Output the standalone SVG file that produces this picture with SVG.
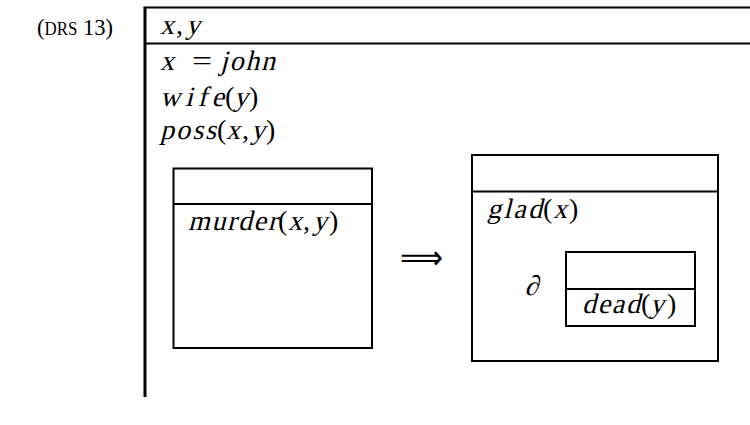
<svg xmlns="http://www.w3.org/2000/svg" width="750" height="425" viewBox="0 0 750 425">
<style>
.box{fill:none;stroke:#000;stroke-width:2}
text{font-family:"Liberation Serif","Times New Roman",serif;font-size:28px;fill:#000}
.lbl{font-size:24px}
</style>
<rect width="750" height="425" fill="#fff"/>
<g id="label"><text class="lbl" x="37" y="35" textLength="76" lengthAdjust="spacingAndGlyphs">(<tspan font-size="18">DRS</tspan> 13)</text></g>
<g id="outer">
<line x1="145" y1="7.5" x2="145" y2="397" stroke="#000" stroke-width="3"/>
<line x1="143.5" y1="7.5" x2="750" y2="7.5" stroke="#000" stroke-width="2"/>
<line x1="145" y1="43.5" x2="750" y2="43.5" stroke="#000" stroke-width="2"/>
<g transform="translate(160,34) skewX(-14)"><text>x</text></g>
<text x="176" y="34">,</text>
<g transform="translate(186,34) skewX(-14)"><text>y</text></g>

<g transform="translate(160,70) skewX(-14)"><text>x</text></g>
<text x="192" y="70" textLength="20" lengthAdjust="spacingAndGlyphs">=</text>
<g transform="translate(220,70) skewX(-14)"><text textLength="55" lengthAdjust="spacing">john</text></g>

<g transform="translate(160,106) skewX(-14)"><text textLength="64" lengthAdjust="spacing">wife</text></g>
<text x="225" y="106">(</text>
<g transform="translate(234,106) skewX(-14)"><text>y</text></g>
<text x="249" y="106">)</text>

<g transform="translate(160,139) skewX(-14)"><text textLength="56" lengthAdjust="spacing">poss</text></g>
<text x="217" y="139">(</text>
<g transform="translate(226,139) skewX(-14)"><text>x</text></g>
<text x="242" y="139">,</text>
<g transform="translate(251,139) skewX(-14)"><text>y</text></g>
<text x="266" y="139">)</text>
</g>
<g id="antecedent">
<rect class="box" x="173.5" y="168.5" width="198.5" height="179.5"/>
<line class="box" x1="173.5" y1="204" x2="372" y2="204"/>
<g transform="translate(188,230) skewX(-14)"><text textLength="89" lengthAdjust="spacing">murder</text></g>
<text x="278" y="230">(</text>
<g transform="translate(288,230) skewX(-14)"><text>x</text></g>
<text x="303" y="230">,</text>
<g transform="translate(313,230) skewX(-14)"><text>y</text></g>
<text x="329" y="230">)</text>
</g>
<g id="connectors">
<text x="400" y="269" textLength="43" lengthAdjust="spacingAndGlyphs" style="font-family:'DejaVu Sans',sans-serif;font-size:34px">⟹</text>
</g>
<g id="consequent">
<rect class="box" x="472" y="155" width="246" height="206"/>
<line class="box" x1="472" y1="191.5" x2="718" y2="191.5"/>
<g transform="translate(487,218) skewX(-14)"><text textLength="55" lengthAdjust="spacing">glad</text></g>
<text x="543" y="218">(</text>
<g transform="translate(553,218) skewX(-14)"><text>x</text></g>
<text x="569" y="218">)</text>
<g transform="translate(525,295) skewX(-10)"><text style="font-size:28px">∂</text></g>
</g>
<g id="inner">
<rect class="box" x="566" y="252" width="129" height="74"/>
<line class="box" x1="566" y1="289" x2="695" y2="289"/>
<g transform="translate(582,313) skewX(-14)"><text textLength="58" lengthAdjust="spacing">dead</text></g>
<text x="641" y="313">(</text>
<g transform="translate(650,313) skewX(-14)"><text>y</text></g>
<text x="667" y="313">)</text>
</g>
</svg>
